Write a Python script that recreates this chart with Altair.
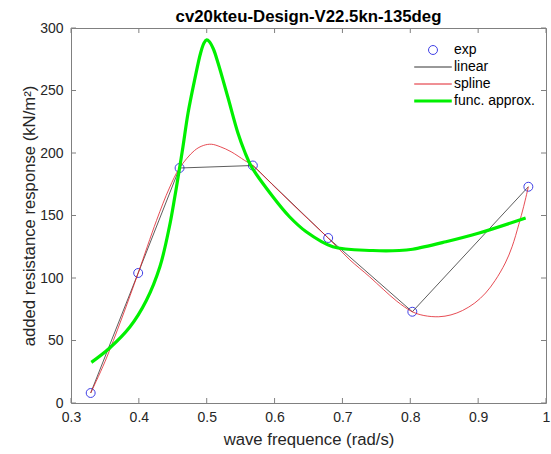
import altair as alt
import pandas as pd

# experimental points
exp_x = [0.329, 0.399, 0.460, 0.568, 0.679, 0.803, 0.974]
exp_y = [8, 104, 188, 190, 132, 73, 173]

# spline curve
spl_x = [0.329, 0.35, 0.375, 0.399, 0.426, 0.445, 0.460, 0.482, 0.495, 0.507, 0.520,
         0.536, 0.556, 0.568, 0.60, 0.64, 0.679, 0.71, 0.74, 0.76, 0.78, 0.803,
         0.82, 0.842, 0.86, 0.877, 0.895, 0.911, 0.925, 0.94, 0.95, 0.96, 0.967, 0.974]
spl_y = [8, 33, 68, 104, 146, 172, 188, 202, 206, 207, 205,
         201, 194, 190, 173, 152, 132, 115, 101, 91, 81.5, 73,
         70, 69, 70.5, 74, 80, 88, 98, 112, 125, 143, 157, 173]

# function approximation
fa_x = [0.330, 0.357, 0.387, 0.411, 0.431, 0.445, 0.453, 0.460, 0.465, 0.4725, 0.482,
        0.491, 0.496, 0.500, 0.504, 0.510, 0.5167, 0.531, 0.546, 0.556, 0.566, 0.5975,
        0.622, 0.6466, 0.6858, 0.7446, 0.7838, 0.8034, 0.8525, 0.9015, 0.970]
fa_y = [32.5, 44, 61, 82, 109, 141, 165, 188, 205, 232, 258,
        280, 288, 290.5, 289, 283, 272, 245, 216, 201, 189, 165,
        149, 137, 125, 122, 122, 123, 129, 136, 148]

x_ticks = [0.3, 0.4, 0.5, 0.6, 0.7, 0.8, 0.9, 1.0]
y_ticks = [0, 50, 100, 150, 200, 250, 300]

series = ["exp", "linear", "spline", "func. approx."]
colors = ["#4040e6", "#333333", "#e0202a", "#00f000"]

exp_df = pd.DataFrame({"f": exp_x, "v": exp_y, "s": "exp"})
lin_df = pd.DataFrame({"f": exp_x, "v": exp_y, "s": "linear"})
spl_df = pd.DataFrame({"f": spl_x, "v": spl_y, "s": "spline"})
fa_df = pd.DataFrame({"f": fa_x, "v": fa_y, "s": "func. approx."})

FONT = "Liberation Sans"

xs = alt.Scale(domain=[0.3, 1.0], nice=False, zero=False)
ys = alt.Scale(domain=[0, 300], nice=False)

x_enc = alt.X("f:Q", scale=xs, axis=alt.Axis(
    title="wave frequence (rad/s)", values=x_ticks, format=".1~f", grid=False,
    ticks=False, domain=False, labelPadding=7, titlePadding=7, labelFlush=False,
    titleFontSize=16.7))
y_enc = alt.Y("v:Q", scale=ys, axis=alt.Axis(
    title="added resistance response (kN/m²)", values=y_ticks, grid=False,
    ticks=False, domain=False, labelPadding=8, titlePadding=1, labelFlush=False,
    titleFontSize=16.7))

col = alt.Color("s:N", scale=alt.Scale(domain=series, range=colors),
                legend=alt.Legend(
                    title=None, orient="none", legendX=355, legendY=15,
                    labelFontSize=14, labelFont=FONT, labelColor="#000000",
                    labelOffset=14, rowPadding=3, padding=0, symbolSize=80,
                    symbolFillColor="transparent",
                    symbolType=alt.ExprRef(expr="datum.value === 'exp' ? 'circle' : 'M-4.2,0L4.2,0'"),
                    symbolStrokeWidth=alt.ExprRef(expr="datum.value === 'func. approx.' ? 3 : 1"),
                ))

points = alt.Chart(exp_df).mark_point(filled=False, opacity=1, size=80, strokeWidth=1).encode(
    x=x_enc, y=y_enc, color=col)
linear = alt.Chart(lin_df).mark_line(strokeWidth=0.8).encode(x="f:Q", y="v:Q", color="s:N")
spline = alt.Chart(spl_df).mark_line(interpolate="catmull-rom", strokeWidth=0.8).encode(
    x="f:Q", y="v:Q", color="s:N")
funca = alt.Chart(fa_df).mark_line(interpolate="catmull-rom", strokeWidth=3.2).encode(
    x="f:Q", y="v:Q", color="s:N")

tick_col = "#808080"
xt = alt.Chart(pd.DataFrame({"f": x_ticks}))
yt = alt.Chart(pd.DataFrame({"v": y_ticks}))
bt = xt.mark_rule(color=tick_col, strokeWidth=1).encode(x="f:Q", y=alt.value(375), y2=alt.value(370))
tt = xt.mark_rule(color=tick_col, strokeWidth=1).encode(x="f:Q", y=alt.value(0), y2=alt.value(5))
lt = yt.mark_rule(color=tick_col, strokeWidth=1).encode(y="v:Q", x=alt.value(0), x2=alt.value(5))
rt = yt.mark_rule(color=tick_col, strokeWidth=1).encode(y="v:Q", x=alt.value(475), x2=alt.value(470))

chart = alt.layer(points, linear, spline, funca, bt, tt, lt, rt).properties(
    width=475, height=375,
    background="white",
    title=alt.TitleParams("cv20kteu-Design-V22.5kn-135deg", fontSize=16.8, fontWeight="bold",
                          font=FONT, anchor="middle", color="#000000", offset=-5),
    autosize=alt.AutoSizeParams(type="none"),
    padding={"left": 71, "top": 28, "right": 5, "bottom": 51},
).configure_view(stroke=tick_col, strokeWidth=1).configure_axis(
    labelFont=FONT, labelFontSize=14, labelColor="#262626",
    titleFont=FONT, titleColor="#262626", titleFontWeight="normal"
)

chart.save("out.html", embed_options={"renderer": "svg", "actions": False})
